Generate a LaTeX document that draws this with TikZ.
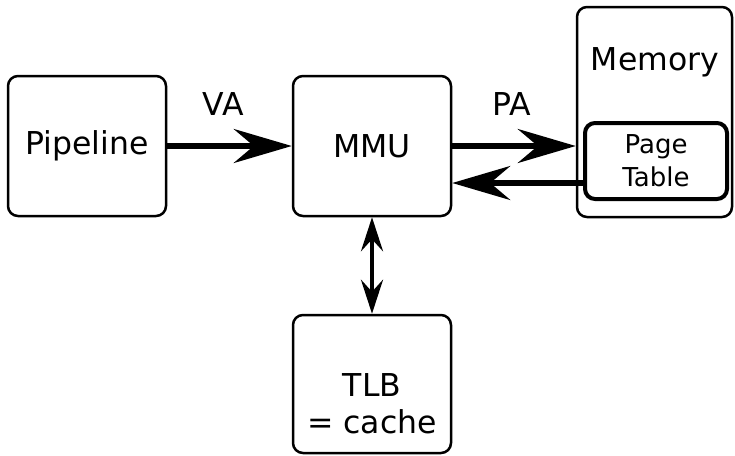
\documentclass[tikz,border=0pt]{standalone}
\usepackage{fontspec}
\setmainfont{DejaVu Sans}
\usetikzlibrary{arrows.meta}
\begin{document}
\begin{tikzpicture}[x=1pt,y=-1pt,
  box/.style={draw, line width=2.5pt, rounded corners=10pt, inner sep=0pt},
  inner box/.style={draw, line width=4pt, rounded corners=10pt, inner sep=0pt},
  lbl/.style={font=\fontsize{31.5}{37}\selectfont, align=center, inner sep=0pt},
  small lbl/.style={font=\fontsize{26}{33}\selectfont, align=center, inner sep=0pt},
  bigarrow/.style={line width=5.5pt, -{Stealth[length=58pt, width=34pt, inset=20pt]}},
  twoway/.style={line width=4pt, {Stealth[length=34pt, width=22pt, inset=12pt]}-{Stealth[length=34pt, width=22pt, inset=12pt]}}]
\useasboundingbox (0,0) rectangle (735,455);

% boxes
\node[box, minimum width=158pt, minimum height=140pt] (pipe) at (87,146) {};
\node[box, minimum width=158pt, minimum height=140pt] (mmu) at (372,146) {};
\node[box, minimum width=155pt, minimum height=210pt] (mem) at (654.5,112) {};
\node[inner box, minimum width=142pt, minimum height=76pt] (pt) at (656,161) {};
\node[box, minimum width=158pt, minimum height=138pt] (tlb) at (372,384) {};

% texts
\node[lbl] (pipetxt) at (pipe) {Pipeline};
\node[lbl] (mmutxt) at (mmu) {MMU};
\node[lbl] (memtxt) at (655,62) {Memory};
\node[small lbl] (pttxt) at (pt) {Page\\Table};
\node[lbl] (tlbtxt) at (372,404) {TLB\\= cache};
\node[lbl] (va) at (223,104) {VA};
\node[lbl] (pa) at (512,104) {PA};

% connectors
\draw[bigarrow] (pipe.east) -- (mmu.west);
\draw[bigarrow] (mmu.east) -- (mmu.east -| mem.west);
\draw[bigarrow] ([yshift=-22pt]pt.west) -- ([yshift=-37pt]mmu.east);
\draw[twoway] (mmu.south) -- (tlb.north);
\end{tikzpicture}
\end{document}
